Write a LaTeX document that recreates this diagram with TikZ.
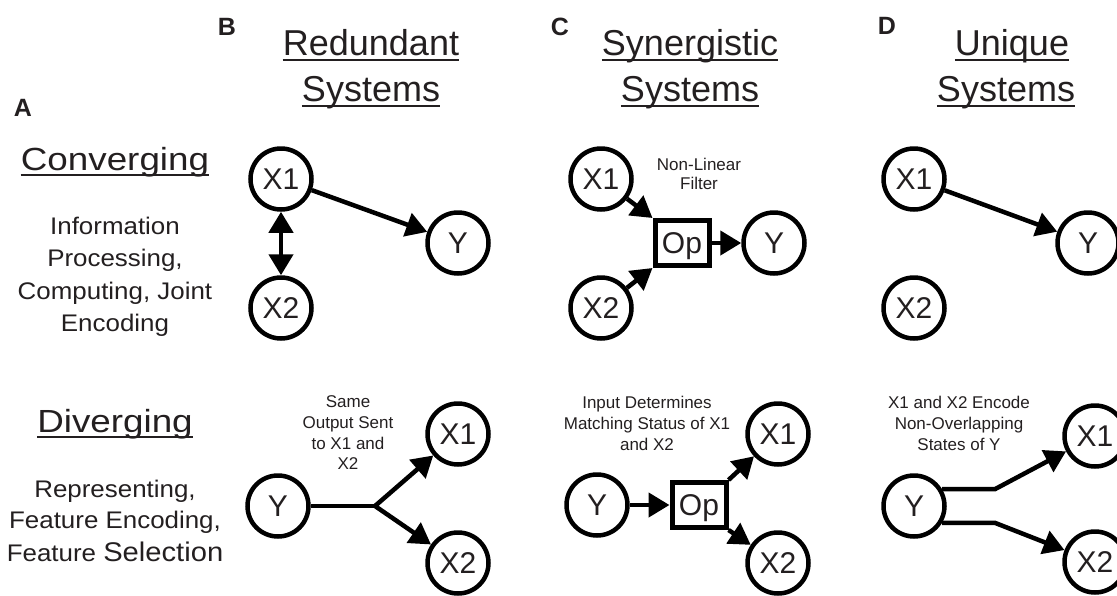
\documentclass[tikz,border=0pt]{standalone}
\usepackage{graphicx}
\usepackage{fontspec}
\setmainfont{Liberation Sans}
\usetikzlibrary{arrows.meta}
\definecolor{ink}{RGB}{35,31,32}
\newcommand\fsz[1]{\fontsize{#1}{#1}\selectfont}
\begin{document}
\begin{tikzpicture}[x=1pt,y=-1pt,
  nd/.style={circle,draw=black,line width=4.5pt,minimum size=61pt,inner sep=0pt,font=\fsz{30},text=ink,text height=21.5pt,text depth=0pt},
  opbox/.style={rectangle,draw=black,line width=5pt,minimum width=54pt,minimum height=45pt,inner sep=0pt,font=\fsz{30},text=ink,text height=21.5pt,text depth=0pt},
  arr/.style={-{Triangle[length=21pt,width=24pt]},line width=4.5pt},
  dbl/.style={{Triangle[length=21pt,width=24pt]}-{Triangle[length=21pt,width=24pt]},line width=4.5pt,line join=miter},
  plain/.style={line width=4.5pt},
  hdr/.style={anchor=base,inner sep=0pt,font=\fsz{36},text=ink},
  sub/.style={anchor=base,inner sep=0pt,font=\fsz{32},text=ink},
  letter/.style={inner sep=0pt,font=\fsz{25}\bfseries,text=ink},
  desc/.style={anchor=base,inner sep=0pt,font=\fsz{24},text=ink},
  lbl/.style={anchor=base,inner sep=0pt,font=\fsz{17},text=ink},
  ulline/.style={draw=ink,line width=2pt}
]
\useasboundingbox (0,0) rectangle (1117,595);

% panel letters
\node[letter] (lA) at (23,108) {A};
\node[letter] (lB) at (227,27) {B};
\node[letter] (lC) at (560,27) {C};
\node[letter] (lD) at (887,26) {D};

% column headers
\node[hdr] (hB1) at (371,55) {Redundant};
\node[hdr] (hB2) at (371,101) {Systems};
\node[hdr] (hC1) at (690,55) {Synergistic};
\node[hdr] (hC2) at (690,101) {Systems};
\node[hdr] (hD1) at (1012,55) {Unique\ };
\node[hdr] (hD2) at (1006,101) {Systems};
\foreach \n in {hB1,hB2,hC1,hC2,hD1,hD2}
  \draw[ulline] ([yshift=-5pt]\n.base west) -- ([yshift=-5pt]\n.base east);

% row headers
\node[sub] (conv) at (115,170) {\scalebox{1.15}[1]{Converging}};
\node[sub] (div) at (115,432) {\scalebox{1.15}[1]{Diverging}};
\foreach \n in {conv,div}
  \draw[ulline] ([yshift=-5pt]\n.base west) -- ([yshift=-5pt]\n.base east);

\node[desc] (dc1) at (115,234) {\scalebox{1.08}[1]{Information}};
\node[desc] (dc2) at (115,266) {\scalebox{1.08}[1]{Processing,}};
\node[desc] (dc3) at (115,299) {\scalebox{1.08}[1]{Computing, Joint}};
\node[desc] (dc4) at (115,331) {\scalebox{1.08}[1]{Encoding}};
\node[desc] (dd1) at (115,497) {\scalebox{1.08}[1]{Representing,}};
\node[desc] (dd2) at (115,528) {\scalebox{1.08}[1]{Feature Encoding,}};
\node[desc] (dd3) at (115,561) {\scalebox{1.08}[1]{Feature {\fsz{27}Selection}}};

% ---- B converging
\node[nd] (b1x1) at (281,179) {X1};
\node[nd] (b1x2) at (281,308) {X2};
\node[nd] (b1y) at (458,243) {Y};
\draw[dbl] (b1x1) -- (b1x2);
\draw[arr] (b1x1) -- (b1y);

% ---- C converging
\node[nd] (c1x1) at (601,179) {X1};
\node[nd] (c1x2) at (601,308) {X2};
\node[opbox] (c1op) at (682,243) {Op};
\node[nd] (c1y) at (774,243) {Y};
\draw[arr] (c1x1) -- (c1op.north west);
\draw[arr] (c1x2) -- (c1op.south west);
\draw[arr] (c1op) -- (c1y);
\node[lbl] (c1l1) at (699,170) {Non-Linear};
\node[lbl] (c1l2) at (699,189) {Filter};

% ---- D converging
\node[nd] (d1x1) at (914,179) {X1};
\node[nd] (d1x2) at (914,308) {X2};
\node[nd] (d1y) at (1088,243) {Y};
\draw[arr] (d1x1) -- (d1y);

% ---- B diverging
\node[nd] (b2y) at (278,506) {Y};
\node[nd] (b2x1) at (458,434) {X1};
\node[nd] (b2x2) at (458,563) {X2};
\coordinate (b2j) at (375,506);
\draw[plain] (b2y) -- (b2j);
\draw[dbl] (b2x1) -- (b2j) -- (b2x2);
\node[lbl] (b2l1) at (348,407) {Same};
\node[lbl] (b2l2) at (348,428) {Output Sent};
\node[lbl] (b2l3) at (348,449) {to X1 and};
\node[lbl] (b2l4) at (348,469) {X2};

% ---- C diverging
\node[nd] (c2y) at (597,505) {Y};
\node[opbox] (c2op) at (699,505) {Op};
\node[nd] (c2x1) at (778,434) {X1};
\node[nd] (c2x2) at (778,563) {X2};
\draw[arr] (c2y) -- (c2op);
\draw[arr] (c2op.north east) -- (c2x1);
\draw[arr] (c2op.south east) -- (c2x2);
\node[lbl] (c2l1) at (647,408) {Input Determines};
\node[lbl] (c2l2) at (647,429) {Matching Status of X1};
\node[lbl] (c2l3) at (647,450) {and X2};

% ---- D diverging
\node[nd] (d2y) at (914,506) {Y};
\node[nd] (d2x1) at (1095,436) {X1};
\node[nd] (d2x2) at (1095,562) {X2};
\coordinate (d2k) at (995,0);
\coordinate (d2j1) at (d2y.31 -| d2k);
\coordinate (d2j2) at (d2y.-31 -| d2k);
\draw[arr] (d2y.31) -- (d2j1) -- (d2x1);
\draw[arr] (d2y.-31) -- (d2j2) -- (d2x2);
\node[lbl] (d2l1) at (959,408) {X1 and X2 Encode};
\node[lbl] (d2l2) at (959,429) {Non-Overlapping};
\node[lbl] (d2l3) at (959,450) {States of Y};
\end{tikzpicture}
\end{document}
